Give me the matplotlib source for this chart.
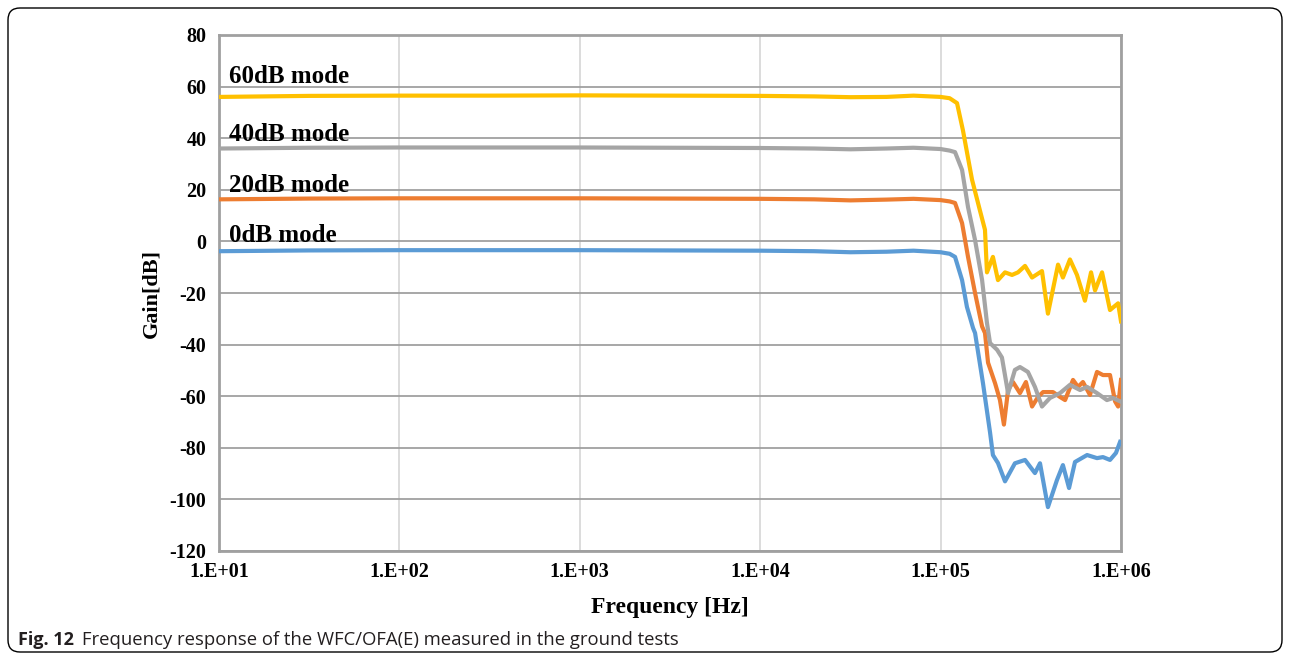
import numpy as np
import matplotlib
matplotlib.use("Agg")
import matplotlib.pyplot as plt
from matplotlib.patches import FancyBboxPatch
from matplotlib.transforms import IdentityTransform

plt.rcParams['axes.unicode_minus'] = False

# log10(frequency) and gain
log_f_60 = [1.0, 1.5, 2.0, 2.5, 3.0, 3.5, 4.0, 4.3, 4.5, 4.7, 4.85, 5.0, 5.05, 5.091, 5.124,
            5.174, 5.218, 5.246, 5.257, 5.290, 5.318, 5.357, 5.396, 5.429, 5.468, 5.507, 5.562,
            5.595, 5.651, 5.678, 5.717, 5.756, 5.800, 5.834, 5.856, 5.895, 5.939, 5.984, 6.0]
gain_60 = [56.0, 56.4, 56.5, 56.5, 56.6, 56.5, 56.4, 56.2, 55.9, 56.0, 56.5, 56.0, 55.5, 53.6, 43,
           24, 12, 4.5, -12, -6, -15, -12, -13, -12, -9.5, -14, -11.5,
           -28, -9, -14, -7, -13, -23, -12, -19, -12, -26.6, -24, -31]

log_f_40 = [1.0, 1.5, 2.0, 3.0, 3.5, 4.0, 4.3, 4.5, 4.7, 4.85, 5.0, 5.05, 5.080, 5.119, 5.152,
            5.191, 5.230, 5.257, 5.274, 5.313, 5.340, 5.374, 5.412, 5.440, 5.484, 5.523, 5.562,
            5.606, 5.662, 5.717, 5.773, 5.812, 5.867, 5.922, 5.956, 5.995]
gain_40 = [36.0, 36.3, 36.4, 36.4, 36.3, 36.2, 36.0, 35.7, 36.0, 36.3, 35.8, 35.2, 34.6, 27.7, 13.3,
           0.5, -15, -31.6, -39.4, -42, -45, -58.8, -49.8, -48.7, -50.6, -56.4, -64,
           -60.7, -58.8, -55.6, -57.6, -56.4, -58.8, -61.5, -60.7, -62]

log_f_20 = [1.0, 1.5, 2.0, 3.0, 3.5, 4.0, 4.3, 4.5, 4.7, 4.85, 5.0, 5.05, 5.080, 5.119, 5.152,
            5.191, 5.230, 5.246, 5.263, 5.302, 5.329, 5.351, 5.374, 5.401, 5.440, 5.473, 5.507,
            5.540, 5.568, 5.623, 5.662, 5.690, 5.734, 5.762, 5.789, 5.828, 5.867, 5.900, 5.939,
            5.967, 5.984, 6.0]
gain_20 = [16.3, 16.6, 16.7, 16.7, 16.6, 16.5, 16.3, 15.9, 16.2, 16.5, 16.0, 15.5, 14.9, 7.1, -6,
           -20, -33, -35.5, -47, -55, -61.5, -71, -57.6, -54.5, -58.8, -54.5, -64,
           -60.3, -58.4, -58.4, -60.3, -61.5, -53.7, -56.4, -54.5, -59.5, -50.6, -51.8, -51.8,
           -62, -64, -53.7]

log_f_0 = [1.0, 1.5, 2.0, 3.0, 3.5, 4.0, 4.3, 4.5, 4.7, 4.85, 5.0, 5.05, 5.080, 5.119, 5.146,
           5.180, 5.191, 5.235, 5.274, 5.290, 5.318, 5.357, 5.412, 5.468, 5.523, 5.551, 5.595,
           5.645, 5.678, 5.712, 5.745, 5.812, 5.867, 5.900, 5.939, 5.972, 5.995]
gain_0 = [-3.8, -3.5, -3.4, -3.4, -3.5, -3.6, -3.8, -4.2, -4.0, -3.6, -4.2, -4.8, -6, -15, -25.4,
          -33.6, -35.5, -55, -74, -82.8, -85.9, -93, -86, -84.7, -89.8, -86, -103,
          -92.5, -86.7, -95.6, -85.5, -82.8, -84, -83.6, -84.7, -82, -77.7]

x_ticks = [1e1, 1e2, 1e3, 1e4, 1e5, 1e6]
x_labels = ['1.E+01', '1.E+02', '1.E+03', '1.E+04', '1.E+05', '1.E+06']
y_ticks = [-120, -100, -80, -60, -40, -20, 0, 20, 40, 60, 80]

series = [
    (log_f_0, gain_0, '#5B9BD5', '0dB mode', 2.2),
    (log_f_20, gain_20, '#ED7D31', '20dB mode', 21.8),
    (log_f_40, gain_40, '#A5A5A5', '40dB mode', 41.4),
    (log_f_60, gain_60, '#FFC000', '60dB mode', 63.8),
]

serif = 'Liberation Serif'

fig = plt.figure(figsize=(12.9, 6.6), dpi=100)
ax = fig.add_axes([219 / 1290, 1 - 551 / 660, (1121 - 219) / 1290, (551 - 35) / 660])

for log_f, gain, color, label, ty in series:
    ax.plot(10 ** np.array(log_f), gain, color=color, lw=3.0, solid_joinstyle='round', zorder=3)
    ax.text(11.4, ty, label, fontsize=18, fontweight='bold', family=serif,
            va='center', ha='left', zorder=4)

ax.set_xscale('log')
ax.set_xlim(1e1, 1e6)
ax.set_ylim(-120, 80)
ax.set_xticks(x_ticks)
ax.set_xticklabels(x_labels)
ax.set_xticks([], minor=True)
ax.set_yticks(y_ticks)
ax.tick_params(length=0, labelsize=14.5)
ax.tick_params(axis='y', pad=9)
ax.tick_params(axis='x', pad=8)
for lab in ax.get_xticklabels() + ax.get_yticklabels():
    lab.set_family(serif)
    lab.set_fontweight('bold')

ax.grid(axis='y', color='#a0a0a0', lw=1.3, zorder=1)
ax.grid(axis='x', color='#d9d9d9', lw=1.3, zorder=1)
for side in ['left', 'right', 'top', 'bottom']:
    ax.spines[side].set_color('#a0a0a0')
    ax.spines[side].set_linewidth(2.0)

ax.set_xlabel('Frequency [Hz]', fontsize=17, fontweight='bold', family=serif, labelpad=11)
ax.set_ylabel('Gain[dB]', fontsize=16, fontweight='bold', family=serif, labelpad=6)

# caption and rounded frame
fig.text(18 / 1290, 1 - 640 / 660, 'Fig. 12', fontsize=13, fontweight='bold',
         family='Open Sans', va='center', ha='left', color='#231f20')
fig.text(82 / 1290, 1 - 640 / 660, 'Frequency response of the WFC/OFA(E) measured in the ground tests',
         fontsize=13.3, family='Open Sans', va='center', ha='left', color='#231f20')
frame = FancyBboxPatch((8, 8), 1274, 644, boxstyle='round,pad=0,rounding_size=12',
                       transform=IdentityTransform(), fill=False, ec='black', lw=1.0)
fig.patches.append(frame)

fig.savefig('out.png', dpi=100)
